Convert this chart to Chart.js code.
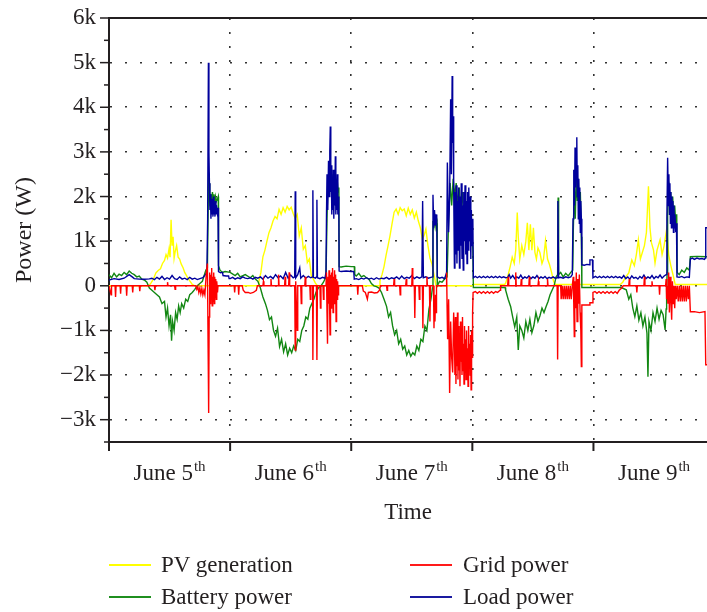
<!DOCTYPE html>
<html>
<head>
<meta charset="utf-8">
<script src="https://cdn.jsdelivr.net/npm/chart.js@4.4.1/dist/chart.umd.min.js"></script>
<style>
  body { margin: 0; background: #fff; }
  #wrap { position: relative; width: 707px; height: 612px; overflow: hidden; }
  #chart { position: absolute; left: 0; top: 0; }
  .key-line { position: absolute; width: 42px; height: 0; border-top: 2px solid; }
  .key-text { position: absolute; font-family: "Liberation Serif", "DejaVu Serif", serif; font-size: 23px; line-height: 23px; color: #231f20; white-space: nowrap; }
</style>
</head>
<body>
<div id="wrap">
  <canvas id="chart" width="707" height="612"></canvas>
  <div class="key-line" style="left:109px;top:564px;border-color:#ffff00"></div>
  <div class="key-text" style="left:161px;top:553px">PV generation</div>
  <div class="key-line" style="left:410px;top:564px;border-color:#ff1a1a"></div>
  <div class="key-text" style="left:463px;top:553px">Grid power</div>
  <div class="key-line" style="left:109px;top:596px;border-color:#1f8f1f"></div>
  <div class="key-text" style="left:161px;top:585px">Battery power</div>
  <div class="key-line" style="left:410px;top:596px;border-color:#1a1aa0"></div>
  <div class="key-text" style="left:463px;top:585px">Load power</div>
</div>
<script>
// hours since June 5th 00:00, watts
var dayNames = ['June 5', 'June 6', 'June 7', 'June 8', 'June 9'];
var dayStarts = [0, 24, 48, 72, 96];

var pvGeneration = [
  [0,0],[7.9,0],[8.3,60],[8.8,150],[9.3,290],[9.8,350],[10.2,380],[10.6,500],[11,570],[11.3,700],[11.6,620],[11.9,830],[12.1,640],[12.3,1480],[12.5,900],[12.7,1100],[12.9,620],[13.1,760],[13.4,900],[13.7,640],[14,600],[14.3,490],[14.7,400],[15,300],[15.5,200],[16,110],[16.5,30],[17,0],
  [29.6,0],[29.7,100],[30.1,300],[30.5,650],[30.9,800],[31.3,1000],[31.7,1190],[32.1,1300],[32.5,1450],[32.9,1550],[33.3,1500],[33.7,1710],[34.1,1600],[34.5,1750],[34.9,1650],[35.3,1780],[35.7,1700],[36.1,1760],[36.5,1620],[36.9,1510],[37.3,1600],[37.7,1120],[38.1,1300],[38.5,820],[38.9,900],[39.3,520],[39.7,600],[40.1,220],[40.5,150],[40.9,60],[41.3,0],
  [53.6,0],[53.7,110],[54.1,250],[54.5,430],[54.9,680],[55.3,900],[55.7,1130],[56.1,1400],[56.5,1650],[56.9,1720],[57.3,1600],[57.7,1750],[58.1,1680],[58.5,1720],[58.9,1570],[59.3,1740],[59.7,1600],[60.1,1700],[60.5,1520],[60.9,1650],[61.3,1450],[61.7,1300],[62.1,1040],[62.5,1150],[62.8,1270],[63.2,900],[63.6,620],[64,490],[64.4,250],[64.8,0],
  [72,0],[72.3,30],[78.4,30],[78.6,60],[79.1,250],[79.5,430],[79.9,640],[80.3,500],[80.6,800],[80.9,1640],[81.1,1100],[81.4,600],[81.8,900],[82.2,700],[82.6,1000],[82.9,1410],[83.2,800],[83.5,1380],[83.8,800],[84.1,1300],[84.4,750],[84.7,600],[85,850],[85.4,740],[85.8,500],[86.1,600],[86.5,1010],[86.9,600],[87.3,470],[87.7,300],[88.1,100],[88.4,30],
  [101.3,30],[101.8,80],[102.4,200],[103,290],[103.6,580],[104.1,450],[104.5,700],[104.9,1030],[105.3,600],[105.7,750],[106.1,900],[106.5,1200],[106.9,2230],[107.2,1300],[107.5,960],[107.9,800],[108.2,510],[108.6,800],[109.2,1030],[109.6,700],[110,900],[110.5,1260],[110.9,700],[111.3,470],[111.8,230],[112.2,30],[118.5,30]
];

var batteryPower = [
  [0,250],[0.5,180],[1,280],[1.5,200],[2,260],[2.5,230],[3,300],[3.5,250],[4,330],[4.5,280],[5,250],[5.5,200],[6,220],[6.5,150],[7,130],[7.5,80],[8,-50],[8.5,-100],[9,-150],[9.5,-200],[10,-250],[10.5,-400],[11,-350],[11.3,-700],[11.6,-500],[11.9,-900],[12.2,-650],[12.4,-1230],[12.6,-800],[12.9,-1000],[13.2,-600],[13.5,-750],[13.8,-450],[14.1,-600],[14.4,-400],[14.8,-500],[15.2,-300],[15.6,-350],[16,-200],[16.5,-150],[17,-80],[17.5,0],[18,50],[18.5,100],[19.2,350],[19.5,400],[19.75,2550],[19.85,2300],[19.95,2100],[20.05,1800],[20.2,2050],[20.35,1950],[20.5,2100],[20.65,1900],[20.8,2050],[20.95,1800],[21.1,2000],[21.3,1900],[21.5,1950],[21.65,2000],[21.7,450],[22,350],[22.5,300],[23,320],
  [24,300],[25,230],[25.5,280],[26,200],[27,250],[28,180],[28.5,230],[29,150],[29.5,100],[30,-50],[30.5,-250],[31,-400],[31.4,-550],[31.8,-760],[32.2,-700],[32.6,-1000],[33,-1130],[33.4,-950],[33.8,-1360],[34.2,-1200],[34.6,-1480],[35,-1300],[35.4,-1550],[35.8,-1400],[36.2,-1500],[36.6,-1350],[37,-1450],[37.4,-1200],[37.8,-1250],[38.2,-1000],[38.6,-900],[39,-700],[39.4,-750],[39.8,-500],[40.2,-400],[40.6,-300],[41,-150],[41.5,-50],[42,0],[42.5,80],[43,200],[43.2,1500],[43.4,2400],[43.6,2000],[43.8,2600],[44,2300],[44.2,1900],[44.4,2500],[44.6,2200],[44.8,2600],[45,2000],[45.2,2400],[45.4,2100],[45.55,2200],[45.6,430],[46,420],[47,440],[48,430],[48.6,430],
  [48.7,250],[49,220],[49.5,280],[50,200],[50.5,230],[51,180],[51.5,150],[52,50],[52.5,0],[53,-20],[53.5,-50],[54,-150],[54.5,-300],[55,-460],[55.4,-700],[55.8,-600],[56.2,-900],[56.6,-1100],[57,-1000],[57.4,-1300],[57.8,-1200],[58.2,-1420],[58.6,-1350],[59,-1550],[59.4,-1450],[59.8,-1580],[60.2,-1500],[60.6,-1550],[61,-1350],[61.4,-1450],[61.8,-1200],[62.2,-1250],[62.6,-900],[63,-1000],[63.4,-520],[63.8,-300],[64.1,-50],[64.2,1450],[64.4,1330],[64.6,1500],[64.8,1300],[65,1400],[65.05,0],[65.5,100],[66,80],[66.5,150],[67,200],[67.3,1500],[67.6,2300],[67.9,1800],[68.2,2400],[68.5,2000],[68.8,2300],[69.1,1800],[69.4,2200],[69.7,1700],[70,2100],[70.3,1500],[70.6,2000],[70.9,1300],[71.2,1800],[71.5,1000],[71.8,1500],[72.1,800],
  [72.2,-40],[78.5,-40],[78.6,-100],[79.1,-300],[79.6,-470],[80,-700],[80.4,-920],[80.8,-700],[81.1,-1440],[81.4,-900],[81.8,-1000],[82.2,-1170],[82.6,-800],[83,-1000],[83.4,-750],[83.8,-1050],[84.2,-890],[84.6,-600],[85,-800],[85.4,-670],[85.8,-500],[86.2,-600],[86.6,-470],[87,-350],[87.4,-200],[87.8,-100],[88.2,0],[88.6,200],[88.9,250],[89,1980],[89.1,250],[89.5,300],[90,200],[90.5,280],[91,220],[91.5,300],[91.9,350],[92,1200],[92.2,2200],[92.4,1500],[92.6,2570],[92.8,1900],[93,2400],[93.2,1600],[93.4,2100],[93.6,1100],[93.7,-40],
  [101.5,-40],[102.5,-90],[103,-300],[103.4,-200],[103.8,-500],[104.2,-690],[104.6,-450],[105,-770],[105.4,-600],[105.8,-900],[106.2,-700],[106.6,-1060],[106.8,-2040],[107,-800],[107.4,-1000],[107.8,-600],[108.2,-800],[108.6,-500],[109,-750],[109.4,-550],[109.8,-650],[110.2,-990],[110.4,-520],[110.5,-90],[110.6,300],[110.7,1600],[110.9,2330],[111.1,1800],[111.3,2100],[111.5,1600],[111.7,2000],[111.9,1500],[112.1,1800],[112.3,1400],[112.5,1600],[112.6,300],[113,250],[113.5,350],[114,300],[114.5,400],[115,350],[115.2,650],[116.5,660],[118.5,650]
];

var gridPower = [
  [0,0],[0.4,-200],[0.5,0],[1.2,0],[1.3,-250],[1.4,0],[2.2,0],[2.3,-180],[2.4,0],[3.4,0],[3.5,-220],[3.6,0],[4.6,0],[4.7,-150],[4.8,0],[6,0],[6.1,-120],[6.2,0],[9,0],[9.1,-100],[9.2,0],[11.5,0],[11.6,80],[11.7,0],[13,0],[13.1,-80],[13.2,0],[17.2,0],[17.4,-80],[17.6,-20],[17.8,-150],[18,-50],[18.2,-180],[18.4,-60],[18.6,-200],[18.8,-100],[19,-200],[19.3,300],[19.5,500],[19.65,-1500],[19.75,-2850],[19.85,-700],[19.95,300],[20.05,-400],[20.15,250],[20.25,-300],[20.35,400],[20.45,-450],[20.55,200],[20.65,-350],[20.75,300],[20.85,-400],[20.95,200],[21.05,-250],[21.15,150],[21.25,-300],[21.35,100],[21.5,-150],[21.6,0],
  [24.8,0],[24.9,-150],[25,0],[25.6,0],[25.7,-200],[25.8,0],[26.4,0],[26.6,-100],[27,-150],[27.6,-150],[28,-170],[28.6,-150],[29.2,-100],[29.4,0],[30.5,0],[30.6,100],[30.7,0],[32,0],[32.1,150],[32.2,0],[33.5,0],[33.6,250],[33.7,0],[34.8,0],[34.9,200],[35,0],[35.6,0],[35.7,300],[35.8,0],[36.8,0],[36.9,-1440],[37,100],[37.1,-300],[37.3,-1000],[37.4,0],[38,0],[38.1,-400],[38.2,0],[38.8,0],[38.9,200],[39,0],[39.8,0],[39.9,-300],[40,0],[40.35,0],[40.4,-1660],[40.5,0],[41.1,0],[41.2,-1660],[41.3,0],[41.8,0],[41.9,-500],[42,0],[42.4,0],[42.5,-300],[42.6,0],[43,0],[43.1,300],[43.2,-600],[43.3,-1300],[43.4,200],[43.5,-400],[43.6,350],[43.7,-300],[43.8,-1100],[43.9,250],[44,-500],[44.1,300],[44.2,-350],[44.3,400],[44.4,-600],[44.5,200],[44.6,-400],[44.7,350],[44.8,-300],[44.9,250],[45,-800],[45.1,150],[45.2,-300],[45.3,100],[45.4,-200],[45.5,0],
  [49.2,0],[49.3,-200],[49.4,0],[50.2,0],[50.4,-120],[50.8,-150],[51.2,-300],[51.4,-150],[52,-140],[52.6,-160],[53.2,-150],[53.6,-100],[53.8,0],[55,0],[55.1,-100],[55.2,0],[56.4,0],[56.5,150],[56.6,0],[57.6,0],[57.7,-200],[57.8,0],[58.8,0],[58.9,150],[59,0],[60,0],[60.1,400],[60.2,0],[60.5,0],[60.6,-720],[60.7,0],[61.4,0],[61.5,-300],[61.6,0],[62.1,0],[62.2,-950],[62.3,0],[62.9,0],[63,200],[63.1,0],[63.5,0],[63.6,-800],[63.7,0],[64.3,0],[64.4,-950],[64.5,-300],[64.6,-800],[64.7,-200],[64.8,-600],[64.9,0],[66.8,0],[66.9,300],[67,-500],[67.1,-1200],[67.3,-300],[67.5,-2400],[67.7,-800],[67.9,-1600],[68.1,-1940],[68.3,-600],[68.45,-1200],[68.55,-2000],[68.65,-700],[68.75,-2200],[68.85,-1000],[68.95,-1800],[69.05,-600],[69.15,-2100],[69.25,-900],[69.35,-1900],[69.45,-1200],[69.55,-2250],[69.65,-800],[69.75,-1700],[69.85,-1100],[69.95,-2000],[70.05,-700],[70.15,-1900],[70.25,-1300],[70.35,-2200],[70.45,-900],[70.55,-1800],[70.65,-1200],[70.75,-2100],[70.85,-1000],[70.95,-1900],[71.05,-1400],[71.15,-2250],[71.25,-900],[71.35,-1700],[71.45,-1300],[71.55,-2000],[71.65,-1100],[71.75,-2330],[71.85,-1000],[71.95,-1600],[72.05,-600],[72.15,-150],[72.6,-130],[73,-170],[73.4,-130],[73.8,-170],[74.2,-130],[74.6,-170],[75,-130],[75.4,-170],[75.8,-130],[76.2,-170],[76.6,-130],[77,-150],[77.5,-100],[77.6,0],
  [79,0],[79.1,200],[79.2,0],[80.5,0],[80.6,300],[80.7,0],[81.6,0],[81.7,150],[81.8,0],[83.2,0],[83.3,200],[83.4,0],[85,0],[85.1,100],[85.2,0],[86.8,0],[86.9,150],[87,0],[88.8,0],[88.9,-1650],[89,0],[89.5,0],[89.6,-300],[89.8,0],[90,-300],[90.2,0],[90.4,-300],[90.6,0],[90.8,-300],[91,0],[91.2,-300],[91.4,0],[91.6,-300],[91.8,0],[92,200],[92.1,-400],[92.2,-1140],[92.3,100],[92.45,-500],[92.6,300],[92.75,-800],[92.9,150],[93.05,-400],[93.2,250],[93.35,-600],[93.5,-1000],[93.6,-1810],[93.7,-430],[94.5,-430],[95.2,-430],[95.3,-380],[95.8,-380],[95.9,-150],[96.3,-130],[96.7,-170],[97.1,-130],[97.5,-170],[97.9,-130],[98.3,-170],[98.7,-130],[99.1,-170],[99.5,-130],[99.9,-170],[100.3,-130],[100.7,-170],[101.1,-100],[101.6,-50],[101.9,0],
  [103,0],[103.1,150],[103.2,0],[104.5,0],[104.6,-150],[104.7,0],[106,0],[106.1,200],[106.2,0],[107.5,0],[107.6,100],[107.7,0],[109,0],[109.1,-200],[109.2,0],[110.3,0],[110.4,150],[110.5,-300],[110.6,0],[110.75,-400],[110.9,300],[111.05,-600],[111.2,200],[111.35,-300],[111.5,-760],[111.65,100],[111.8,-400],[111.95,0],[112.1,-500],[112.25,0],[112.4,-300],[112.6,0],[112.8,-350],[113,0],[113.2,-350],[113.4,0],[113.6,-350],[113.8,0],[114,-350],[114.2,0],[114.4,-350],[114.6,0],[114.8,-300],[115,0],[115.2,-580],[116,-580],[117,-600],[118.1,-580],[118.25,-1770],[118.5,-1770]
];

var loadPower = [
  [0,130],[1,160],[2,140],[3,170],[4,250],[4.6,200],[5,160],[6,150],[7,145],[8,155],[8.5,170],[9,140],[9.5,190],[10,150],[10.5,210],[11,140],[11.5,180],[12,150],[12.5,230],[13,160],[13.5,140],[14,200],[14.5,150],[15,170],[15.5,140],[16,190],[16.5,150],[17,170],[17.5,140],[18,160],[18.6,180],[19.1,250],[19.4,300],[19.55,1500],[19.7,5000],[19.8,3000],[19.9,2300],[20,1700],[20.1,2050],[20.2,1500],[20.3,1950],[20.4,1600],[20.5,1900],[20.6,1550],[20.7,2000],[20.8,1600],[20.9,1850],[21,1550],[21.1,1900],[21.2,1600],[21.3,1800],[21.45,1650],[21.6,1750],[21.7,320],[22.1,290],[22.5,300],[22.6,230],[23.2,220],[23.7,220],[23.8,160],
  [24,160],[24.5,190],[25,150],[25.5,180],[26,160],[26.5,200],[27,170],[27.5,160],[28,180],[28.5,150],[29,190],[29.5,170],[30,200],[30.5,150],[31,230],[31.5,170],[32,210],[32.5,160],[33,250],[33.5,180],[34,220],[34.5,160],[35,300],[35.5,170],[36,240],[36.5,180],[36.8,200],[36.9,2120],[37,180],[37.4,250],[37.8,400],[38,170],[38.5,230],[39,170],[39.5,210],[40,180],[40.3,200],[40.4,2140],[40.5,190],[40.9,170],[41.1,200],[41.2,1930],[41.3,180],[41.8,160],[42.3,190],[42.8,170],[43,300],[43.1,1600],[43.2,2500],[43.35,1700],[43.5,2800],[43.6,2000],[43.75,3000],[43.85,3570],[43.95,2100],[44.05,2700],[44.15,1600],[44.25,2400],[44.35,1700],[44.45,2600],[44.55,1500],[44.65,2300],[44.75,1800],[44.85,2900],[44.95,1600],[45.05,2200],[45.15,1700],[45.25,2500],[45.35,1600],[45.45,2000],[45.55,1700],[45.6,330],[46,320],[47,330],[48,320],[48.5,320],
  [48.6,150],[49,160],[49.5,140],[50,170],[50.5,150],[51,180],[51.5,150],[52,170],[52.5,140],[53,180],[53.5,150],[54,170],[54.5,160],[55,190],[55.5,150],[56,180],[56.5,160],[57,200],[57.5,150],[58,220],[58.5,160],[59,190],[59.5,170],[60,230],[60.5,160],[61,200],[61.5,170],[62,200],[62.15,1900],[62.3,180],[62.8,200],[63.3,170],[63.8,190],[64.1,200],[64.2,2040],[64.35,1300],[64.5,1700],[64.65,1350],[64.8,1600],[64.95,1400],[65.05,200],[65.5,170],[66,190],[66.5,160],[66.9,300],[67.05,2760],[67.3,1200],[67.5,2000],[67.7,4180],[67.85,2500],[68,4700],[68.1,3200],[68.2,3800],[68.3,2200],[68.45,400],[68.55,2100],[68.7,700],[68.8,2250],[68.95,500],[69.05,1900],[69.2,800],[69.3,2200],[69.45,400],[69.55,2000],[69.7,900],[69.8,2300],[69.95,600],[70.05,1800],[70.2,350],[70.3,2100],[70.45,1000],[70.55,2250],[70.7,700],[70.8,1900],[70.95,500],[71.05,2100],[71.2,800],[71.3,2200],[71.45,1000],[71.55,2000],[71.7,600],[71.8,1700],[71.95,900],[72.1,1500],
  [72.2,180],[72.6,210],[73,180],[73.4,210],[73.8,180],[74.2,210],[74.6,180],[75,210],[75.4,180],[75.8,210],[76.2,180],[76.6,210],[77,180],[77.4,210],[77.8,180],[78.2,200],[78.6,180],[79,190],[79.3,250],[79.6,170],[80,230],[80.4,160],[80.8,200],[81.2,170],[81.6,240],[82,160],[82.4,200],[82.8,170],[83.2,220],[83.6,160],[84,200],[84.4,170],[84.8,230],[85.2,160],[85.6,200],[86,170],[86.4,210],[86.8,160],[87.2,190],[87.6,170],[88,200],[88.4,170],[88.8,180],[88.95,1900],[89.1,180],[89.5,190],[90,170],[90.5,200],[91,180],[91.5,200],[91.8,250],[91.95,1500],[92.1,2600],[92.25,1800],[92.35,3100],[92.45,2200],[92.6,2900],[92.7,3330],[92.8,2000],[92.9,2700],[93,1500],[93.1,2400],[93.2,1400],[93.3,2200],[93.4,1200],[93.5,1900],[93.6,1500],[93.7,470],[94.2,460],[94.7,480],[95.2,470],[95.3,580],[95.8,580],
  [95.9,180],[96.4,210],[96.8,180],[97.2,210],[97.6,180],[98,210],[98.4,180],[98.8,210],[99.2,180],[99.6,210],[100,180],[100.4,210],[100.8,180],[101.2,200],[101.6,170],[102,230],[102.4,160],[102.8,200],[103.2,150],[103.6,220],[104,170],[104.4,190],[104.8,150],[105.2,210],[105.6,170],[106,240],[106.4,160],[106.8,200],[107.2,170],[107.6,230],[108,160],[108.4,210],[108.8,180],[109.2,240],[109.6,170],[110,220],[110.4,250],[110.55,1500],[110.7,2870],[110.85,1800],[110.95,2500],[111.05,1600],[111.15,2300],[111.25,1400],[111.35,2100],[111.45,1300],[111.55,2000],[111.65,1500],[111.75,1900],[111.85,1200],[111.95,1800],[112.05,1300],[112.15,1600],[112.3,1200],[112.45,1400],[112.55,200],[113,190],[113.5,210],[114,180],[114.5,200],[115,190],[115.2,600],[115.6,620],[116,590],[116.5,620],[117,600],[117.5,610],[118,590],[118.15,620],[118.25,1300],[118.5,1300]
];

var serif = '"Liberation Serif", "DejaVu Serif", serif';
var ink = '#231f20';

function toPoints(pairs) {
  return pairs.map(function (p) { return { x: p[0], y: p[1] }; });
}

function kLabel(v) {
  if (v === 0) return '0';
  if (v < 0) return '\u2212' + (-v / 1000) + 'k';
  return (v / 1000) + 'k';
}

// tick marks, top frame line and the day labels under the axis
var axisDecor = {
  id: 'axisDecor',
  afterDraw: function (chart) {
    var ctx = chart.ctx;
    var area = chart.chartArea;
    var xs = chart.scales.x;
    var ys = chart.scales.y;
    ctx.save();
    ctx.strokeStyle = ink;
    ctx.lineWidth = 2;
    ctx.beginPath();
    ctx.moveTo(area.left - 1, area.top);
    ctx.lineTo(area.right, area.top);
    ctx.stroke();

    ctx.lineWidth = 1.5;
    ys.ticks.forEach(function (t) {
      var y = ys.getPixelForValue(t.value);
      var len = t.value % 1000 === 0 ? 9 : 5;
      ctx.beginPath();
      ctx.moveTo(area.left - len, y);
      ctx.lineTo(area.left, y);
      ctx.stroke();
    });
    ctx.lineWidth = 2;
    dayStarts.forEach(function (h) {
      var x = xs.getPixelForValue(h);
      ctx.beginPath();
      ctx.moveTo(x, area.bottom);
      ctx.lineTo(x, area.bottom + 9);
      ctx.stroke();
    });

    ctx.fillStyle = ink;
    ctx.textBaseline = 'alphabetic';
    ctx.textAlign = 'left';
    for (var i = 0; i < dayNames.length; i++) {
      ctx.font = '23px ' + serif;
      var w1 = ctx.measureText(dayNames[i]).width;
      ctx.font = '15px ' + serif;
      var w2 = ctx.measureText('th').width;
      var cx = xs.getPixelForValue(dayStarts[i] + 12);
      var x0 = cx - (w1 + w2 + 1) / 2;
      ctx.font = '23px ' + serif;
      ctx.fillText(dayNames[i], x0, 480);
      ctx.font = '15px ' + serif;
      ctx.fillText('th', x0 + w1 + 1, 471);
    }
    ctx.font = '23px ' + serif;
    ctx.textAlign = 'center';
    ctx.fillText('Time', (area.left + area.right) / 2, 519);
    ctx.restore();
  }
};

function series(label, pairs, color) {
  return {
    label: label,
    data: toPoints(pairs),
    borderColor: color,
    borderWidth: 1.4,
    pointRadius: 0,
    tension: 0,
    fill: false
  };
}

var chart = new Chart(document.getElementById('chart'), {
  type: 'line',
  data: {
    datasets: [
      series('Grid power', gridPower, '#ff0000'),
      series('Load power', loadPower, '#00009c'),
      series('Battery power', batteryPower, '#128712'),
      series('PV generation', pvGeneration, '#ffff00')
    ]
  },
  plugins: [axisDecor],
  options: {
    responsive: false,
    animation: false,
    events: [],
    layout: { padding: { top: 18, right: 0, left: 0, bottom: 0 } },
    plugins: {
      legend: { display: false },
      tooltip: { enabled: false }
    },
    scales: {
      x: {
        type: 'linear',
        min: 0,
        max: 118.5,
        ticks: { display: false, stepSize: 24 },
        grid: {
          drawTicks: false,
          lineWidth: 1.6,
          color: function (c) {
            var v = c.tick && c.tick.value;
            return (v === 24 || v === 48 || v === 72 || v === 96) ? '#333' : 'rgba(0,0,0,0)';
          }
        },
        border: { display: true, color: ink, width: 2, dash: [2, 12] },
        afterFit: function (scale) {
          scale.height = 170;
          scale.paddingLeft = 0;
          scale.paddingRight = 0;
        }
      },
      y: {
        min: -3500,
        max: 6000,
        ticks: {
          stepSize: 500,
          autoSkip: false,
          padding: 13,
          color: ink,
          font: { family: serif, size: 23 },
          callback: function (v) { return v % 1000 === 0 ? kLabel(v) : ''; }
        },
        grid: {
          drawTicks: false,
          lineWidth: 1.6,
          color: function (c) {
            var v = c.tick && c.tick.value;
            return (v % 1000 === 0 && v < 6000 && v > -3500) ? '#333' : 'rgba(0,0,0,0)';
          }
        },
        border: { display: true, color: ink, width: 2, dash: [2, 13] },
        title: {
          display: true,
          text: 'Power (W)',
          color: ink,
          font: { family: serif, size: 24 },
          padding: { top: 10 }
        },
        afterFit: function (scale) {
          scale.width = 109;
          scale.paddingTop = 0;
          scale.paddingBottom = 0;
        }
      }
    }
  }
});
</script>
</body>
</html>
